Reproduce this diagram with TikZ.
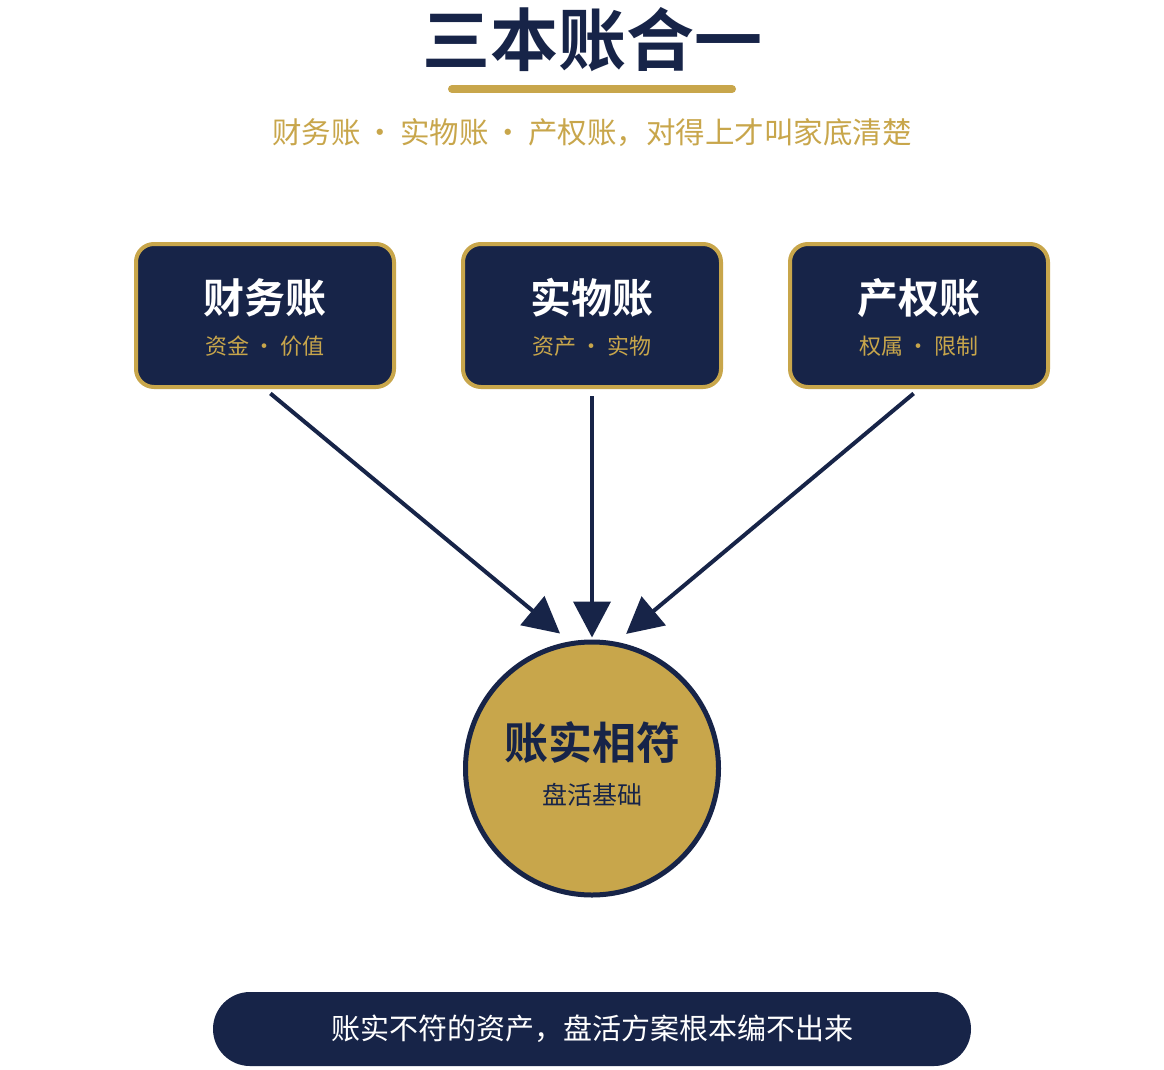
\documentclass[tikz,border=0pt]{standalone}
\usepackage{fontspec}
\setmainfont{Noto Sans CJK SC}[BoldFont={Noto Sans CJK SC Bold}]
\usetikzlibrary{arrows.meta}
\definecolor{navy}{HTML}{172448}
\definecolor{gold}{HTML}{C8A64B}
\tikzset{
	ledger/.style={draw=gold, line width=4pt, fill=navy, rounded corners=18pt, minimum width=258pt, minimum height=143pt, inner sep=0pt},
	ledgername/.style={inner sep=0pt, text=white, font=\bfseries\fontsize{41}{41}\selectfont},
	ledgernote/.style={inner sep=0pt, text=gold, font=\fontsize{22}{22}\selectfont},
	feed/.style={navy, line width=4pt, -{Triangle[width=37pt,length=36pt]}, shorten <=7pt}
}
\begin{document}
\begin{tikzpicture}[x=1pt, y=-1pt]
	        \useasboundingbox [fill=white] (0, 0) rectangle (1164, 1070);
	        % title
	        \node [inner sep=0pt, text=navy, font=\bfseries\fontsize{68}{68}\selectfont] at (592, 40) (title) {三本账合一};
	        \draw [gold, line width=8pt, line cap=round] (452, 89) -- (732, 89);
	        \node [inner sep=0pt, text=gold, font=\fontsize{29.5}{29.5}\selectfont] at (592, 133) (subtitle) {财务账\hspace{0.17em}·\hspace{0.17em}实物账\hspace{0.17em}·\hspace{0.17em}产权账，对得上才叫家底清楚};
	        
	        % three ledgers
	        \node [ledger] at (265, 315.5) (fin) {};
	        \node [ledger] at (592, 315.5) (goods) {};
	        \node [ledger] at (919, 315.5) (rights) {};
	        \node [ledgername] at (265, 298) (finname) {财务账};
	        \node [ledgername] at (592, 298) (goodsname) {实物账};
	        \node [ledgername] at (919, 298) (rightsname) {产权账};
	        \node [ledgernote] at (265, 346) (finnote) {资金 · 价值};
	        \node [ledgernote] at (592, 346) (goodsnote) {资产 · 实物};
	        \node [ledgernote] at (919, 346) (rightsnote) {权属 · 限制};
	        
	        % goal
	        \node [circle, draw=navy, line width=5pt, fill=gold, minimum size=253pt, inner sep=0pt] at (592, 768.5) (goal) {};
	        \node [inner sep=0pt, text=navy, font=\bfseries\fontsize{44}{44}\selectfont] at (592, 743) (goalname) {账实相符};
	        \node [inner sep=0pt, text=navy, font=\fontsize{25}{25}\selectfont] at (592, 795) (goalnote) {盘活基础};
	        
	        \draw [feed, shorten >=12.4pt] (fin.south) -- (goal.100.2);
	        \draw [feed, shorten >=2pt] (goods.south) -- (goal.north);
	        \draw [feed, shorten >=12.4pt] (rights.south) -- (goal.79.8);
	        
	        % bottom line
	        \node [fill=navy, rounded corners=37pt, minimum width=758pt, minimum height=74pt, inner sep=0pt, text=white, font=\fontsize{29}{29}\selectfont] at (592, 1029) (verdict) {账实不符的资产，盘活方案根本编不出来};
\end{tikzpicture}
\end{document}
